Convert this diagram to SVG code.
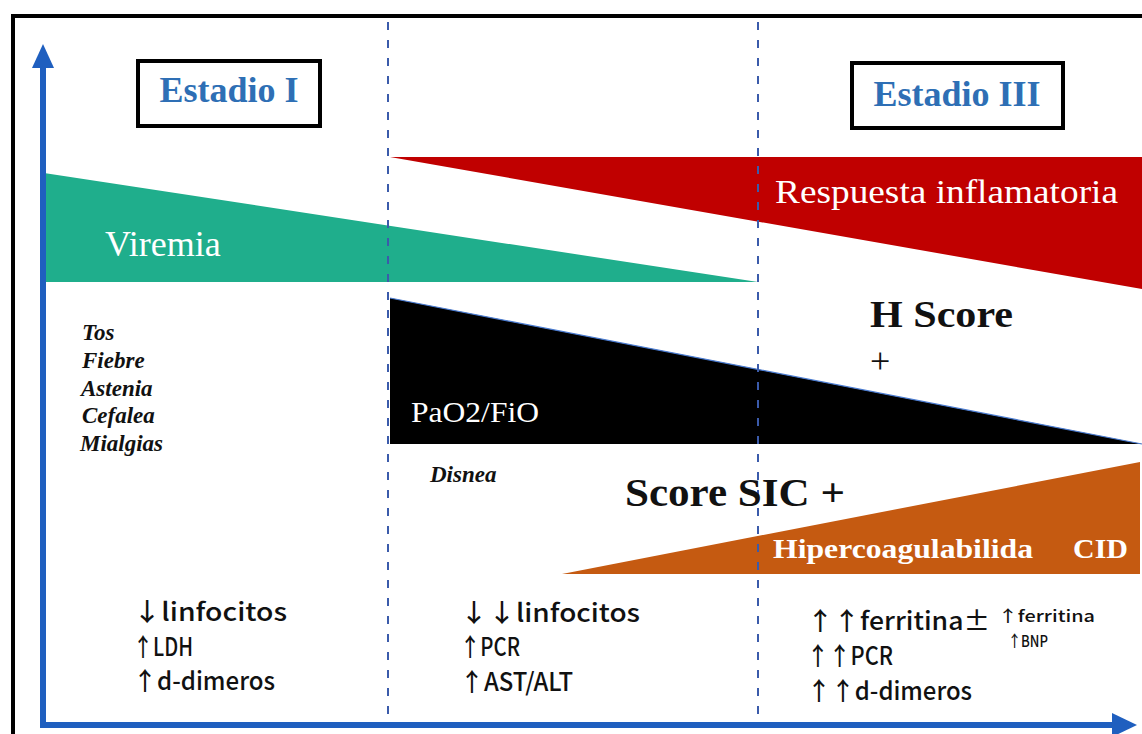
<svg xmlns="http://www.w3.org/2000/svg" width="1142" height="734" viewBox="0 0 1142 734">
<style>
.serifb{font-family:"Liberation Serif","Times New Roman",serif;font-weight:bold}
.serif{font-family:"Liberation Serif","Times New Roman",serif}
.stage{fill:#2e6fb5;font-size:36px}
.box{fill:#fff;stroke:#000;stroke-width:4}
.white{fill:#fff}
.sym{font-family:"Liberation Serif","Times New Roman",serif;font-weight:bold;font-style:italic;font-size:23px;fill:#111}
.lab{font-family:"Noto Sans CJK JP","DejaVu Sans Mono",monospace;font-size:25px;font-weight:500;fill:#111}
.labs{font-family:"Noto Sans CJK JP","DejaVu Sans Mono",monospace;font-size:16px;font-weight:500;fill:#111}
.dash{stroke:#3b5bab;stroke-width:2;stroke-dasharray:8 10;fill:none}
.axis{stroke:#1f5fbf;stroke-width:6;fill:none}
</style>
<rect x="0" y="0" width="1142" height="734" fill="#fff"/>
<rect x="13" y="16" width="1200" height="800" fill="none" stroke="#000" stroke-width="4"/>

<g id="viremia">
<polygon points="44,173 758,282 44,282" fill="#1fae8c"/>
<text x="105" y="256" class="serif white" font-size="36">Viremia</text>
</g>
<g id="respuesta">
<polygon points="390,157 1142,157 1142,289" fill="#c00000"/>
<text x="775" y="203" class="serif white" font-size="34" textLength="343" lengthAdjust="spacingAndGlyphs">Respuesta inflamatoria</text>
</g>
<g id="pao2">
<polygon points="390,298 1142,444 390,444" fill="#000"/>
<line x1="390" y1="298" x2="1142" y2="444" stroke="#4a7bd0" stroke-width="1.2"/>
<text x="411" y="422" class="serif white" font-size="30" textLength="128" lengthAdjust="spacingAndGlyphs">PaO2/FiO</text>
</g>
<g id="hipercoag">
<polygon points="562,574 1140,462 1140,574" fill="#c55a11"/>
<text x="773" y="558" class="serifb white" font-size="27" textLength="260" lengthAdjust="spacingAndGlyphs">Hipercoagulabilida</text>
<text x="1073" y="558" class="serifb white" font-size="27" textLength="55" lengthAdjust="spacingAndGlyphs">CID</text>
</g>

<g id="connectors">
<line x1="388" y1="22" x2="388" y2="724" class="dash"/>
<line x1="758" y1="22" x2="758" y2="724" class="dash"/>
<line x1="43" y1="728" x2="43" y2="68" class="axis"/>
<polygon points="43,44 32,68 54,68" fill="#1f5fbf"/>
<line x1="40" y1="725" x2="1112" y2="725" class="axis"/>
<polygon points="1137,725 1112,713 1112,737" fill="#1f5fbf"/>
</g>

<g id="estadio1">
<rect x="138" y="61" width="182" height="65" class="box"/>
<text x="229" y="102" text-anchor="middle" class="serifb stage">Estadio I</text>
</g>
<g id="estadio3">
<rect x="852" y="63" width="211" height="65" class="box"/>
<text x="957" y="106" text-anchor="middle" class="serifb stage">Estadio III</text>
</g>

<g id="sintomas">
<text x="82" y="340" class="sym">Tos</text>
<text x="82" y="368" class="sym">Fiebre</text>
<text x="81" y="396" class="sym">Astenia</text>
<text x="82" y="423" class="sym">Cefalea</text>
<text x="80" y="451" class="sym">Mialgias</text>
</g>
<g id="disnea">
<text x="430" y="482" class="sym" font-size="22">Disnea</text>
</g>
<g id="hscore">
<text x="870" y="327" class="serifb" font-size="38" fill="#111" textLength="143" lengthAdjust="spacingAndGlyphs">H Score</text>
<text x="870" y="373" class="serif" font-size="36" fill="#111">+</text>
</g>
<g id="scoresic">
<text x="625" y="506" class="serifb" font-size="40" fill="#111" textLength="220" lengthAdjust="spacingAndGlyphs">Score SIC +</text>
</g>

<g id="lab1">
<text x="133" y="621" class="lab" textLength="154" lengthAdjust="spacingAndGlyphs">↓linfocitos</text>
<text x="133" y="656" class="lab" textLength="60" lengthAdjust="spacingAndGlyphs">↑LDH</text>
<text x="133" y="690" class="lab" textLength="142" lengthAdjust="spacingAndGlyphs">↑d-dimeros</text>
</g>
<g id="lab2">
<text x="460" y="622" class="lab" textLength="180" lengthAdjust="spacingAndGlyphs">↓↓linfocitos</text>
<text x="460" y="656" class="lab" textLength="60" lengthAdjust="spacingAndGlyphs">↑PCR</text>
<text x="460" y="691" class="lab" textLength="113" lengthAdjust="spacingAndGlyphs">↑AST/ALT</text>
</g>
<g id="lab3">
<text x="807" y="630" class="lab" textLength="183" lengthAdjust="spacingAndGlyphs">↑↑ferritina±</text>
<text x="998" y="622" class="labs" textLength="97" lengthAdjust="spacingAndGlyphs">↑ferritina</text>
<text x="1008" y="647" class="labs" textLength="40" lengthAdjust="spacingAndGlyphs">↑BNP</text>
<text x="807" y="665" class="lab" textLength="86" lengthAdjust="spacingAndGlyphs">↑↑PCR</text>
<text x="807" y="700" class="lab" textLength="165" lengthAdjust="spacingAndGlyphs">↑↑d-dimeros</text>
</g>
</svg>
